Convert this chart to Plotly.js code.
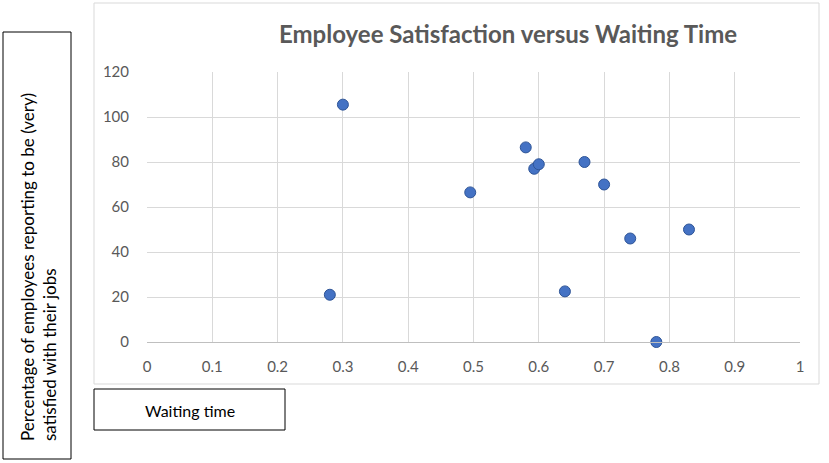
<!DOCTYPE html>
<html>
<head>
<meta charset="utf-8">
<script src="https://cdn.plot.ly/plotly-3.0.1.min.js"></script>
<style>
  html, body { margin: 0; padding: 0; background: #fff; }
  #chart { width: 829px; height: 463px; }
</style>
</head>
<body>
<div id="chart"></div>
<script>
// ── Data ──────────────────────────────────────────────────────────────────────
const waitingTime  = [0.28, 0.30, 0.495, 0.58, 0.593, 0.60, 0.64, 0.67, 0.70, 0.74, 0.78, 0.83];
const satisfaction = [21, 105.5, 66.5, 86.5, 77, 79, 22.5, 80, 70, 46, 0, 50];
const xTicks = [0, 0.1, 0.2, 0.3, 0.4, 0.5, 0.6, 0.7, 0.8, 0.9, 1];
const yTicks = [0, 20, 40, 60, 80, 100, 120];

const chartTitle = 'Employee Satisfaction versus Waiting Time';
const yLabel = 'Percentage of employees reporting to be (very)<br>satisfied with their jobs';
const xLabel = 'Waiting time';

// ── Page geometry (pixels) ────────────────────────────────────────────────────
const W = 829, H = 463;
const MARGIN = { l: 147, r: 29, t: 72, b: 121 };
const pw = W - MARGIN.l - MARGIN.r;
const ph = H - MARGIN.t - MARGIN.b;
// pixel -> paper coords
const px = x => (x - MARGIN.l) / pw;
const py = y => (H - MARGIN.b - y) / ph;

const FONT = "Lato, 'Open Sans', sans-serif";
const GRID = '#d9d9d9';

function box(x0, y0, x1, y1, color) {
  return {
    type: 'rect', xref: 'paper', yref: 'paper', layer: 'below',
    x0: px(x0), x1: px(x1), y0: py(y1), y1: py(y0),
    line: { color, width: 1 }, fillcolor: 'rgba(0,0,0,0)',
  };
}

const trace = {
  type: 'scatter', mode: 'markers',
  x: waitingTime, y: satisfaction,
  marker: { color: '#4472c4', size: 11, line: { color: '#2f5597', width: 1 } },
  hoverinfo: 'x+y',
  cliponaxis: false,
};

const layout = {
  width: W, height: H,
  margin: MARGIN,
  paper_bgcolor: '#fff',
  plot_bgcolor: '#fff',
  showlegend: false,
  font: { family: FONT, size: 15, color: '#595959' },
  title: {
    text: '<b>' + chartTitle + '</b>',
    font: { family: FONT, size: 24, color: '#595959' },
    x: px(508), xref: 'paper', xanchor: 'center',
    y: 1 - 35 / H, yref: 'container', yanchor: 'middle',
  },
  xaxis: {
    range: [0, 1], tickvals: xTicks, ticktext: xTicks.map(String),
    showgrid: true, gridcolor: GRID, gridwidth: 1,
    zeroline: false, showline: true, linecolor: '#bfbfbf', linewidth: 1,
    mirror: false,
    ticks: 'outside', ticklen: 11, tickcolor: 'rgba(0,0,0,0)',
    tickfont: { family: FONT, size: 15, color: '#595959' },
    fixedrange: true,
  },
  yaxis: {
    range: [0, 120], tickvals: yTicks, ticktext: yTicks.map(String),
    showgrid: true, gridcolor: GRID, gridwidth: 1,
    zeroline: false, showline: false,
    ticks: 'outside', ticklen: 14, tickcolor: 'rgba(0,0,0,0)',
    tickfont: { family: FONT, size: 15, color: '#595959' },
    fixedrange: true,
  },
  shapes: [
    box(94, 3, 819, 384, GRID),      // chart area border
    box(3, 32, 71, 459, '#000'),     // y-label box
    box(94, 389, 285, 430, '#000'),  // x-label box
  ],
  annotations: [
    {
      xref: 'paper', yref: 'paper', x: px(38), y: py(267),
      xanchor: 'center', yanchor: 'middle',
      text: yLabel, textangle: -90, align: 'left', showarrow: false,
      font: { family: FONT, size: 17, color: '#000' },
    },
    {
      xref: 'paper', yref: 'paper', x: px(190), y: py(410),
      xanchor: 'center', yanchor: 'middle',
      text: xLabel, showarrow: false,
      font: { family: FONT, size: 16, color: '#000' },
    },
  ],
};

Plotly.newPlot('chart', [trace], layout, { displayModeBar: false, staticPlot: true });
</script>
</body>
</html>
